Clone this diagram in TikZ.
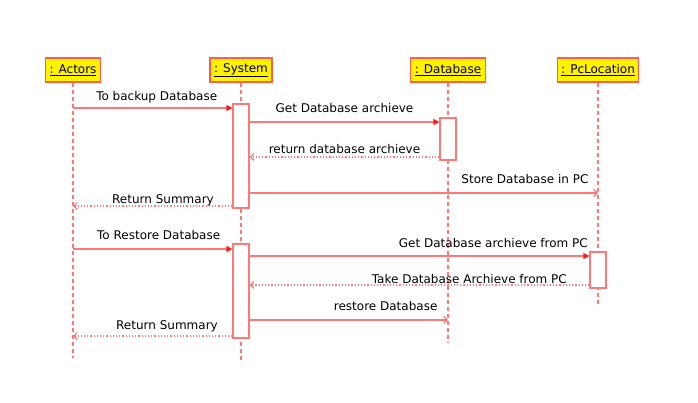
\documentclass[tikz,border=0pt]{standalone}
\usepackage{fontspec}
\setmainfont{DejaVu Sans}
\usetikzlibrary{arrows.meta}
\definecolor{seqline}{HTML}{FF7878}
\definecolor{seqhead}{HTML}{FF1A1A}
\definecolor{objborder}{HTML}{FF5A4A}
\begin{document}
\begin{tikzpicture}[x=1pt, y=-1pt,
    font=\fontsize{12}{14}\selectfont,
    obj/.style={draw=objborder, fill=yellow, line width=1.2pt, minimum height=24pt, inner xsep=4pt},
    act/.style={draw=seqline, fill=white, line width=1.2pt, minimum width=16pt, inner sep=0pt},
    life/.style={draw=seqline, line width=1.2pt, dash pattern=on 4pt off 3pt},
    call/.style={draw=seqline, line width=1.2pt, -{Triangle[length=6pt, width=6pt, fill=seqhead, color=seqhead]}},
    send/.style={draw=seqline, line width=1.2pt, -{Straight Barb[length=3.5pt, width=7pt]}},
    ret/.style={draw=seqline, line width=1.2pt, dotted, -{Straight Barb[length=3.5pt, width=7pt]}},
    msg/.style={inner sep=1pt, anchor=south}]
  \useasboundingbox (0,0) rectangle (698,402);

  % objects
  \node (actors) at (73, 70) [obj] {\underline{: Actors}};
  \node (system) at (241, 70) [obj] {\underline{: System}};
  \node (database) at (448, 70) [obj] {\underline{: Database}};
  \node (pclocation) at (598, 70) [obj] {\underline{: PcLocation}};

  % lifelines
  \coordinate (actorsend) at (73, 358);
  \coordinate (systemend) at (241, 360);
  \coordinate (databaseend) at (448, 343);
  \coordinate (pclocationend) at (598, 306);
  \draw[life] (actors) -- (actorsend);
  \draw[life] (system) -- (systemend);
  \draw[life] (database) -- (databaseend);
  \draw[life] (pclocation) -- (pclocationend);

  % activations
  \node (sys1) at (241, 156) [act, minimum height=104pt] {};
  \node (db1) at (448, 139) [act, minimum height=42pt] {};
  \node (sys2) at (241, 291) [act, minimum height=94pt] {};
  \node (pc1) at (598, 270) [act, minimum height=36pt] {};

  % backup
  \draw[call] (actors |- 0,108) -- node[msg, above=3pt, xshift=4pt] {To backup Database} (sys1.west |- 0,108);
  \draw[call] (sys1.east |- 0,122) -- node[msg, above=8pt] {Get Database archieve} (db1.west |- 0,122);
  \draw[ret] (db1.west |- 0,157) -- node[msg, above=2pt] {return database archieve} (sys1.east |- 0,157);
  \draw[send] (sys1.east |- 0,193) -- (pclocation |- 0,193)
    node[msg, anchor=south east, pos=1, xshift=-8pt, yshift=8pt] {Store Database in PC};
  \draw[ret] (sys1.west |- 0,206) -- (actors |- 0,206)
    node[msg, anchor=south east, pos=0, xshift=-17pt, yshift=-2pt] {Return Summary};

  % restore
  \draw[call] (actors |- 0,249) -- node[msg, above=8pt, xshift=6pt] {To Restore Database} (sys2.west |- 0,249);
  \draw[call] (sys2.east |- 0,256) -- (pc1.west |- 0,256)
    node[msg, anchor=south east, pos=1, xshift=0pt, yshift=7pt] {Get Database archieve from PC};
  \draw[ret] (pc1.west |- 0,285) -- (sys2.east |- 0,285)
    node[msg, anchor=south east, pos=0, xshift=-21pt, yshift=0pt] {Take Database Archieve from PC};
  \draw[send] (sys2.east |- 0,320) -- (database |- 0,320)
    node[msg, anchor=south east, pos=1, xshift=-9pt, yshift=8pt] {restore Database};
  \draw[ret] (sys2.west |- 0,336) -- (actors |- 0,336)
    node[msg, anchor=south east, pos=0, xshift=-13pt, yshift=2pt] {Return Summary};
\end{tikzpicture}
\end{document}
